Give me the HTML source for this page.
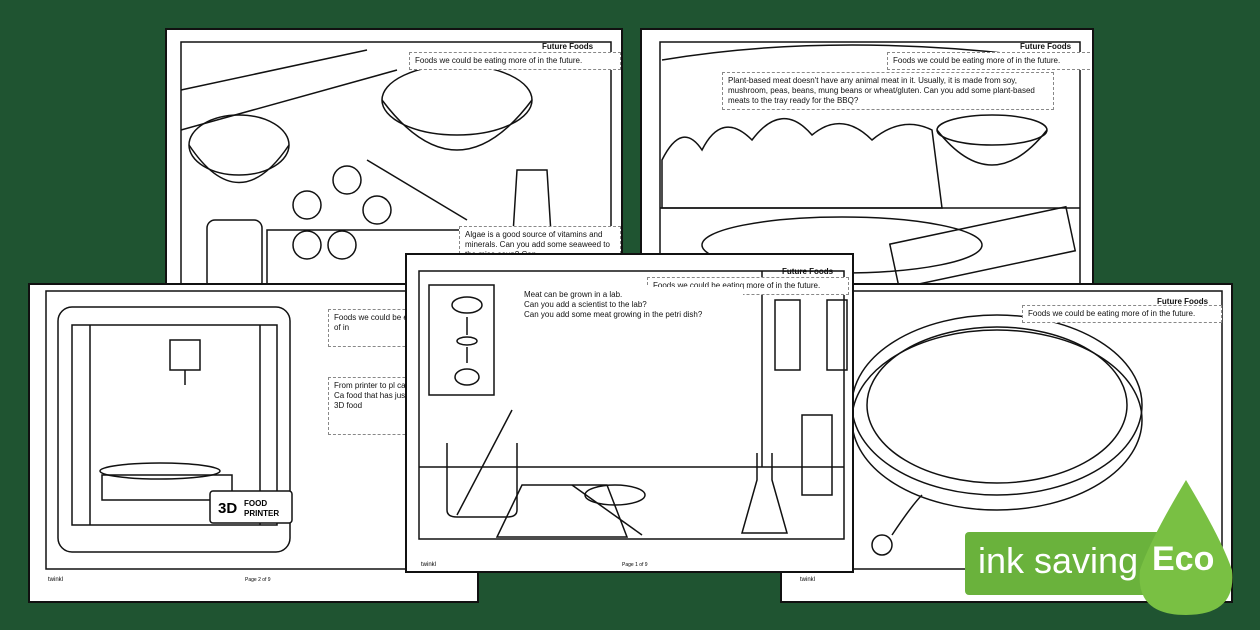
<!DOCTYPE html>
<html><head><meta charset="utf-8"><style>
body{margin:0;width:1260px;height:630px;background:#1f5431;position:relative;overflow:hidden;font-family:"Liberation Sans",sans-serif}
.pg{position:absolute;background:#fff;border:2px solid #111;box-sizing:border-box;overflow:hidden}
.tb{position:absolute;background:#fff;border:1px dashed #888;font-size:8px;line-height:10px;padding:3px 5px;color:#111}
.tt{position:absolute;font-size:8px;font-weight:bold;color:#111}
svg{position:absolute;left:0;top:0}
</style></head><body>

<div class="pg" style="left:165px;top:28px;width:458px;height:262px">
<svg width="458" height="262"><g fill="none" stroke="#111" stroke-width="1.5">
<rect x="14" y="12" width="430" height="250"/>
<line x1="14" y1="60" x2="200" y2="20"/><line x1="14" y1="100" x2="230" y2="40"/>
<ellipse cx="72" cy="115" rx="50" ry="30"/><path d="M22 115 Q72 190 122 115"/>
<ellipse cx="290" cy="70" rx="75" ry="35"/><path d="M215 70 Q290 170 365 70"/>
<circle cx="180" cy="150" r="14"/><circle cx="210" cy="180" r="14"/><circle cx="140" cy="175" r="14"/><circle cx="175" cy="215" r="14"/><circle cx="140" cy="215" r="14"/>
<path d="M100 200 L300 200 L300 260 L100 260Z"/><rect x="40" y="190" width="55" height="70" rx="8"/>
<path d="M350 140 L380 140 L385 220 L345 220Z"/><line x1="200" y1="130" x2="300" y2="190"/>
</g></svg>
<div class="tt" style="left:375px;top:12px">Future Foods</div>
<div class="tb" style="left:242px;top:22px;width:200px">Foods we could be eating more of in the future.</div>
<div class="tb" style="left:292px;top:196px;width:150px">Algae is a good source of vitamins and minerals. Can you add some seaweed to the miso soup? Can</div>
</div>

<div class="pg" style="left:640px;top:28px;width:454px;height:258px">
<svg width="454" height="258"><g fill="none" stroke="#111" stroke-width="1.5">
<rect x="18" y="12" width="420" height="246"/>
<line x1="18" y1="178" x2="438" y2="178"/>
<path d="M20 130 Q40 90 60 120 Q80 80 110 110 Q140 70 170 105 Q200 80 230 110 Q260 85 290 100 L300 178 L20 178Z"/>
<ellipse cx="350" cy="100" rx="55" ry="15"/><path d="M295 100 Q350 170 405 100"/>
<ellipse cx="200" cy="215" rx="140" ry="28"/><rect x="250" y="195" width="180" height="45" transform="rotate(-12 340 215)"/>
<path d="M20 30 Q200 0 420 30"/>
</g></svg>
<div class="tt" style="left:378px;top:12px">Future Foods</div>
<div class="tb" style="left:245px;top:22px;width:196px">Foods we could be eating more of in the future.</div>
<div class="tb" style="left:80px;top:42px;width:320px">Plant-based meat doesn't have any animal meat in it. Usually, it is made from soy, mushroom, peas, beans, mung beans or wheat/gluten. Can you add some plant-based meats to the tray ready for the BBQ?</div>
</div>

<div class="pg" style="left:28px;top:283px;width:451px;height:320px">
<svg width="451" height="320"><g fill="none" stroke="#111" stroke-width="1.5">
<rect x="16" y="6" width="418" height="278"/>
<rect x="28" y="22" width="232" height="245" rx="14"/><rect x="42" y="40" width="205" height="200"/>
<rect x="140" y="55" width="30" height="30"/><line x1="155" y1="85" x2="155" y2="100"/>
<ellipse cx="130" cy="186" rx="60" ry="8"/><rect x="72" y="190" width="130" height="25"/>
<line x1="60" y1="40" x2="60" y2="240"/><line x1="230" y1="40" x2="230" y2="240"/>
<rect x="180" y="206" width="82" height="32" rx="3" fill="#fff"/>
</g><text x="188" y="228" font-family="Liberation Sans" font-weight="bold" font-size="15">3D</text><text x="214" y="221" font-family="Liberation Sans" font-weight="bold" font-size="8">FOOD</text><text x="214" y="231" font-family="Liberation Sans" font-weight="bold" font-size="8">PRINTER</text>
<text x="18" y="296" font-size="6" font-family="Liberation Sans">twinkl</text><text x="215" y="296" font-size="5" font-family="Liberation Sans">Page 2 of 9</text></svg>
<div class="tb" style="left:298px;top:24px;width:120px;height:30px">Foods we could be eating more of in</div>
<div class="tb" style="left:298px;top:92px;width:120px;height:50px">From printer to pl can be printed. Ca food that has just inside the 3D food</div>
</div>

<div class="pg" style="left:780px;top:283px;width:453px;height:320px">
<svg width="453" height="320"><g fill="none" stroke="#111" stroke-width="1.5">
<rect x="60" y="6" width="380" height="278"/>
<ellipse cx="215" cy="120" rx="145" ry="90"/><ellipse cx="215" cy="120" rx="130" ry="78"/>
<ellipse cx="215" cy="135" rx="145" ry="90"/>
<circle cx="100" cy="260" r="10"/><path d="M110 250 Q130 220 140 210"/>
</g><text x="18" y="296" font-size="6" font-family="Liberation Sans">twinkl</text></svg>
<div class="tt" style="left:375px;top:12px">Future Foods</div>
<div class="tb" style="left:240px;top:20px;width:188px">Foods we could be eating more of in the future.</div>
</div>

<div class="pg" style="left:405px;top:253px;width:449px;height:320px">
<svg width="449" height="320"><g fill="none" stroke="#111" stroke-width="1.5">
<rect x="12" y="16" width="425" height="268"/>
<rect x="22" y="30" width="65" height="110"/>
<ellipse cx="60" cy="50" rx="15" ry="8"/><line x1="60" y1="62" x2="60" y2="80"/><ellipse cx="60" cy="86" rx="10" ry="4"/><line x1="60" y1="92" x2="60" y2="108"/><ellipse cx="60" cy="122" rx="12" ry="8"/>
<line x1="12" y1="212" x2="437" y2="212"/><line x1="355" y1="16" x2="355" y2="212"/>
<rect x="368" y="45" width="25" height="70"/><rect x="420" y="45" width="20" height="70"/>
<path d="M40 188 L40 255 Q40 262 50 262 L100 262 Q110 262 110 255 L110 188"/><line x1="50" y1="260" x2="105" y2="155"/>
<ellipse cx="208" cy="240" rx="30" ry="10"/><path d="M90 282 L220 282 L200 230 L115 230Z"/>
<path d="M350 198 L350 225 L335 278 L380 278 L365 225 L365 198"/><line x1="165" y1="230" x2="235" y2="280"/>
<rect x="395" y="160" width="30" height="80"/>
</g><text x="14" y="311" font-size="6" font-family="Liberation Sans">twinkl</text><text x="215" y="311" font-size="5" font-family="Liberation Sans">Page 1 of 9</text></svg>
<div class="tt" style="left:375px;top:12px">Future Foods</div>
<div class="tb" style="left:240px;top:22px;width:190px">Foods we could be eating more of in the future.</div>
<div class="tb" style="left:112px;top:32px;width:214px;border:none">Meat can be grown in a lab.<br>Can you add a scientist to the lab?<br>Can you add some meat growing in the petri dish?</div>
</div>

<div style="position:absolute;left:965px;top:532px;width:230px;height:63px;background:#6ab23c;border-radius:4px"></div>
<svg width="1260" height="630"><path d="M1186 480 Q1150 540 1140 570 Q1135 615 1186 615 Q1237 615 1232 570 Q1222 540 1186 480Z" fill="#79c043"/></svg>
<div style="position:absolute;left:978px;top:540px;font-size:36px;color:#fff">ink saving</div>
<div style="position:absolute;left:1152px;top:540px;font-size:34px;color:#fff;font-weight:bold">Eco</div>
</body></html>
